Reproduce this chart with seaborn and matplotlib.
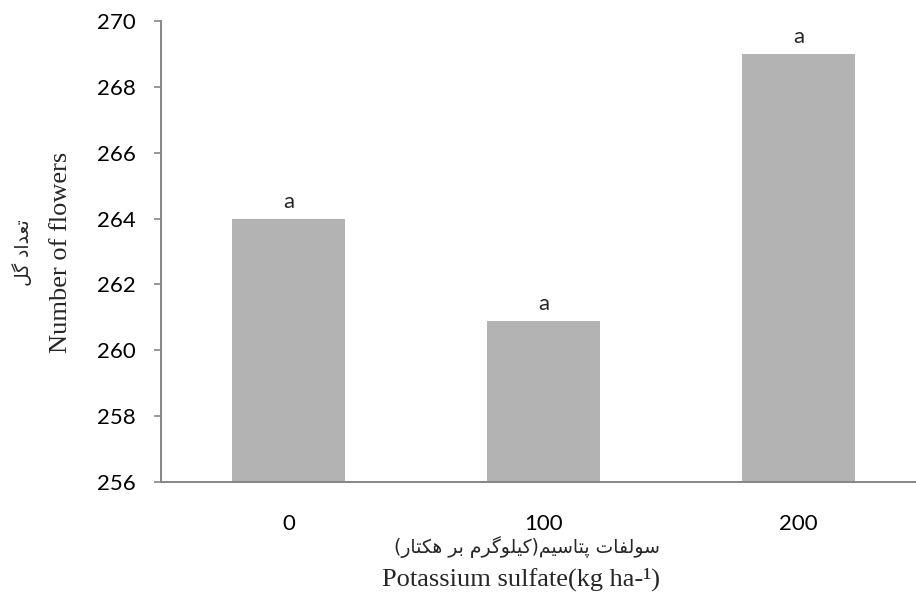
import matplotlib
matplotlib.use("Agg")
import matplotlib.pyplot as plt
import seaborn as sns
import pandas as pd

# ---- data ----
doses = ["0", "100", "200"]
flowers = [264.0, 260.9, 269.0]
letters = ["a", "a", "a"]
y_ticks = [256, 258, 260, 262, 264, 266, 268, 270]

ylabel_fa = "تعداد گل"
ylabel_en = "Number of flowers"
xlabel_fa = "سولفات پتاسیم(کیلوگرم بر هکتار)"
xlabel_en = "Potassium sulfate(kg ha-\u00b9)"

# ---- minimal Persian shaping (presentation forms + RTL order) ----
FORMS = {
    "ت": ("\uFE95", "\uFE96", "\uFE97", "\uFE98"),
    "ع": ("\uFEC9", "\uFECA", "\uFECB", "\uFECC"),
    "د": ("\uFEA9", "\uFEAA", None, None),
    "ا": ("\uFE8D", "\uFE8E", None, None),
    "گ": ("\uFB92", "\uFB93", "\uFB94", "\uFB95"),
    "ل": ("\uFEDD", "\uFEDE", "\uFEDF", "\uFEE0"),
    "س": ("\uFEB1", "\uFEB2", "\uFEB3", "\uFEB4"),
    "و": ("\uFEED", "\uFEEE", None, None),
    "ف": ("\uFED1", "\uFED2", "\uFED3", "\uFED4"),
    "پ": ("\uFB56", "\uFB57", "\uFB58", "\uFB59"),
    "ی": ("\uFBFC", "\uFBFD", "\uFBFE", "\uFBFF"),
    "م": ("\uFEE1", "\uFEE2", "\uFEE3", "\uFEE4"),
    "ک": ("\uFB8E", "\uFB8F", "\uFB90", "\uFB91"),
    "ر": ("\uFEAD", "\uFEAE", None, None),
    "ب": ("\uFE8F", "\uFE90", "\uFE91", "\uFE92"),
    "ه": ("\uFEE9", "\uFEEA", "\uFEEB", "\uFEEC"),
}
MIRROR = {"(": ")", ")": "("}


def shape_fa(s):
    out = []
    n = len(s)
    for i, ch in enumerate(s):
        if ch not in FORMS:
            out.append(MIRROR.get(ch, ch))
            continue
        iso, fin, ini, med = FORMS[ch]
        prev = s[i - 1] if i > 0 else None
        nxt = s[i + 1] if i < n - 1 else None
        prev_join = prev in FORMS and FORMS[prev][2] is not None
        next_join = nxt in FORMS and ini is not None
        if prev_join and next_join:
            out.append(med)
        elif prev_join:
            out.append(fin)
        elif next_join:
            out.append(ini)
        else:
            out.append(iso)
    return "".join(reversed(out))


# ---- figure ----
W, H = 916, 601
fig = plt.figure(figsize=(W / 100, H / 100), dpi=100)
sns.set_style("white")
plt.rcParams["font.family"] = ["Lato", "DejaVu Sans"]

ax = fig.add_axes([161 / W, 1 - 482 / H, (926 - 161) / W, (482 - 21) / H])

df = pd.DataFrame({"dose": doses, "flowers": flowers})
sns.barplot(data=df, x="dose", y="flowers", color="#b3b3b3", saturation=1,
            width=0.443, ax=ax, errorbar=None, edgecolor="none")

ax.set_ylim(256, 270)
ax.set_yticks(y_ticks)
ax.set_yticklabels([str(t) for t in y_ticks])
ax.set_xlim(-0.5, 2.5)
ax.set_xlabel("")
ax.set_ylabel("")

grey = "#868686"
for side in ["top", "right"]:
    ax.spines[side].set_visible(False)
for side in ["left", "bottom"]:
    ax.spines[side].set_color(grey)
    ax.spines[side].set_linewidth(1.4)

ax.tick_params(axis="y", direction="out", length=5, width=1.2, color=grey,
               pad=13, labelsize=16, labelcolor="#000000", left=True)
ax.tick_params(axis="x", length=0, pad=23, labelsize=16, labelcolor="#000000")

for i, (v, lab) in enumerate(zip(flowers, letters)):
    ax.annotate(lab, xy=(i, v), xytext=(0, 5), textcoords="offset points",
                ha="center", va="bottom", fontsize=16, family="Lato")

# axis titles
fig.text(23 / W, 1 - 253 / H, shape_fa(ylabel_fa), rotation=90, ha="center",
         va="center", fontsize=13.5, family=["DejaVu Sans"])
fig.text(61 / W, 1 - 252 / H, ylabel_en, rotation=90, ha="center",
         va="center", fontsize=19, family=["Liberation Serif"])
fig.text(527 / W, 1 - 553 / H, shape_fa(xlabel_fa), ha="center",
         va="baseline", fontsize=13.5, family=["DejaVu Sans"])
fig.text(521 / W, 1 - 586 / H, xlabel_en, ha="center", va="baseline",
         fontsize=19, family=["Liberation Serif"])

fig.savefig("out.png", dpi=100)
